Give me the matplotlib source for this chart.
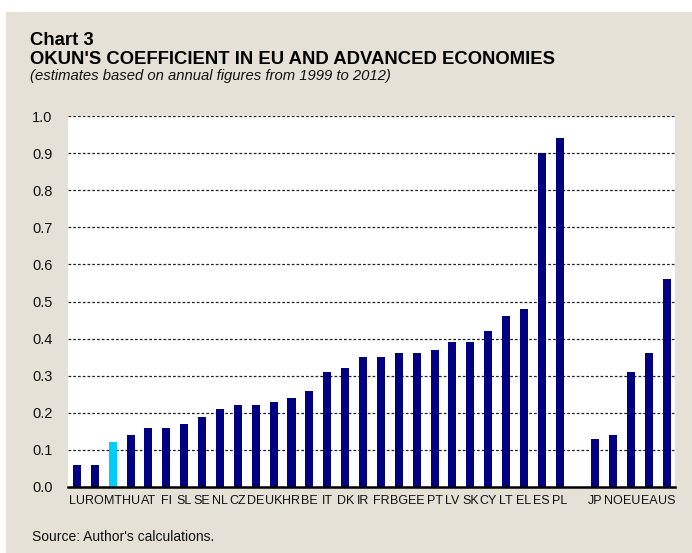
import numpy as np
import matplotlib.pyplot as plt
from matplotlib.patches import Rectangle

plt.rcParams['font.family'] = ['Liberation Sans', 'DejaVu Sans']

# данные
eu_countries = ['LU', 'RO', 'MT', 'HU', 'AT', 'FI', 'SL', 'SE', 'NL', 'CZ', 'DE', 'UK', 'HR', 'BE',
                'IT', 'DK', 'IR', 'FR', 'BG', 'EE', 'PT', 'LV', 'SK', 'CY', 'LT', 'EL', 'ES', 'PL']
eu_values = [0.06, 0.06, 0.12, 0.14, 0.16, 0.16, 0.17, 0.19, 0.21, 0.22, 0.22, 0.23, 0.24, 0.26,
             0.31, 0.32, 0.35, 0.35, 0.36, 0.36, 0.37, 0.39, 0.39, 0.42, 0.46, 0.48, 0.90, 0.94]
adv_countries = ['JP', 'NO', 'EU', 'EA', 'US']
adv_values = [0.13, 0.14, 0.31, 0.36, 0.56]
highlight = 'MT'
y_ticks = [0.0, 0.1, 0.2, 0.3, 0.4, 0.5, 0.6, 0.7, 0.8, 0.9, 1.0]

NAVY = '#000080'
CYAN = '#00CCFF'
BEIGE = '#E6E1D6'

labels = eu_countries + [''] + adv_countries
values = eu_values + [np.nan] + adv_values
x = np.arange(len(labels))
colors = [CYAN if c == highlight else NAVY for c in labels]

fig = plt.figure(figsize=(6.92, 5.53), dpi=100, facecolor='white')
fig.patches.append(Rectangle((6 / 692, 0), 1, 1 - 12 / 553, transform=fig.transFigure,
                             facecolor=BEIGE, edgecolor='none', zorder=-1))

ax = fig.add_axes([68 / 692, 1 - 487 / 553, 607 / 692, 371 / 553])
ax.set_facecolor('white')
ax.bar(x, values, width=0.45, color=colors, zorder=3)

ax.set_xlim(-0.5, len(labels) - 0.55)
ax.set_ylim(0, 1.0)
ax.set_yticks(y_ticks)
ax.set_yticklabels([f'{v:.1f}' for v in y_ticks], fontsize=10.5, color='#111111')
ax.set_xticks(x)
ax.set_xticklabels(labels, fontsize=9, color='#111111')
ax.tick_params(axis='y', length=0, pad=11)
ax.tick_params(axis='x', length=0, pad=6)

for v in y_ticks[1:]:
    ax.axhline(v, color='#222222', lw=0.9, ls=(0, (2.2, 1.6)), zorder=1)

for s in ['top', 'right', 'left']:
    ax.spines[s].set_visible(False)
ax.spines['bottom'].set_linewidth(1.8)
ax.spines['bottom'].set_color('black')
ax.spines['bottom'].set_zorder(4)

# заголовки
fig.text(30 / 692, 1 - 45 / 553, 'Chart 3', fontsize=13.3, fontweight='bold', va='baseline')
fig.text(30 / 692, 1 - 63.5 / 553, "OKUN'S COEFFICIENT IN EU AND ADVANCED ECONOMIES",
         fontsize=13.3, fontweight='bold', va='baseline')
fig.text(30 / 692, 1 - 80 / 553, '(estimates based on annual figures from 1999 to 2012)',
         fontsize=10.7, style='italic', va='baseline', color='#111111')
fig.text(32 / 692, 1 - 530 / 553, "Source: Author's calculations.", fontsize=10,
         va='top', color='#111111')

fig.savefig('out.png', dpi=100, facecolor=fig.get_facecolor())
